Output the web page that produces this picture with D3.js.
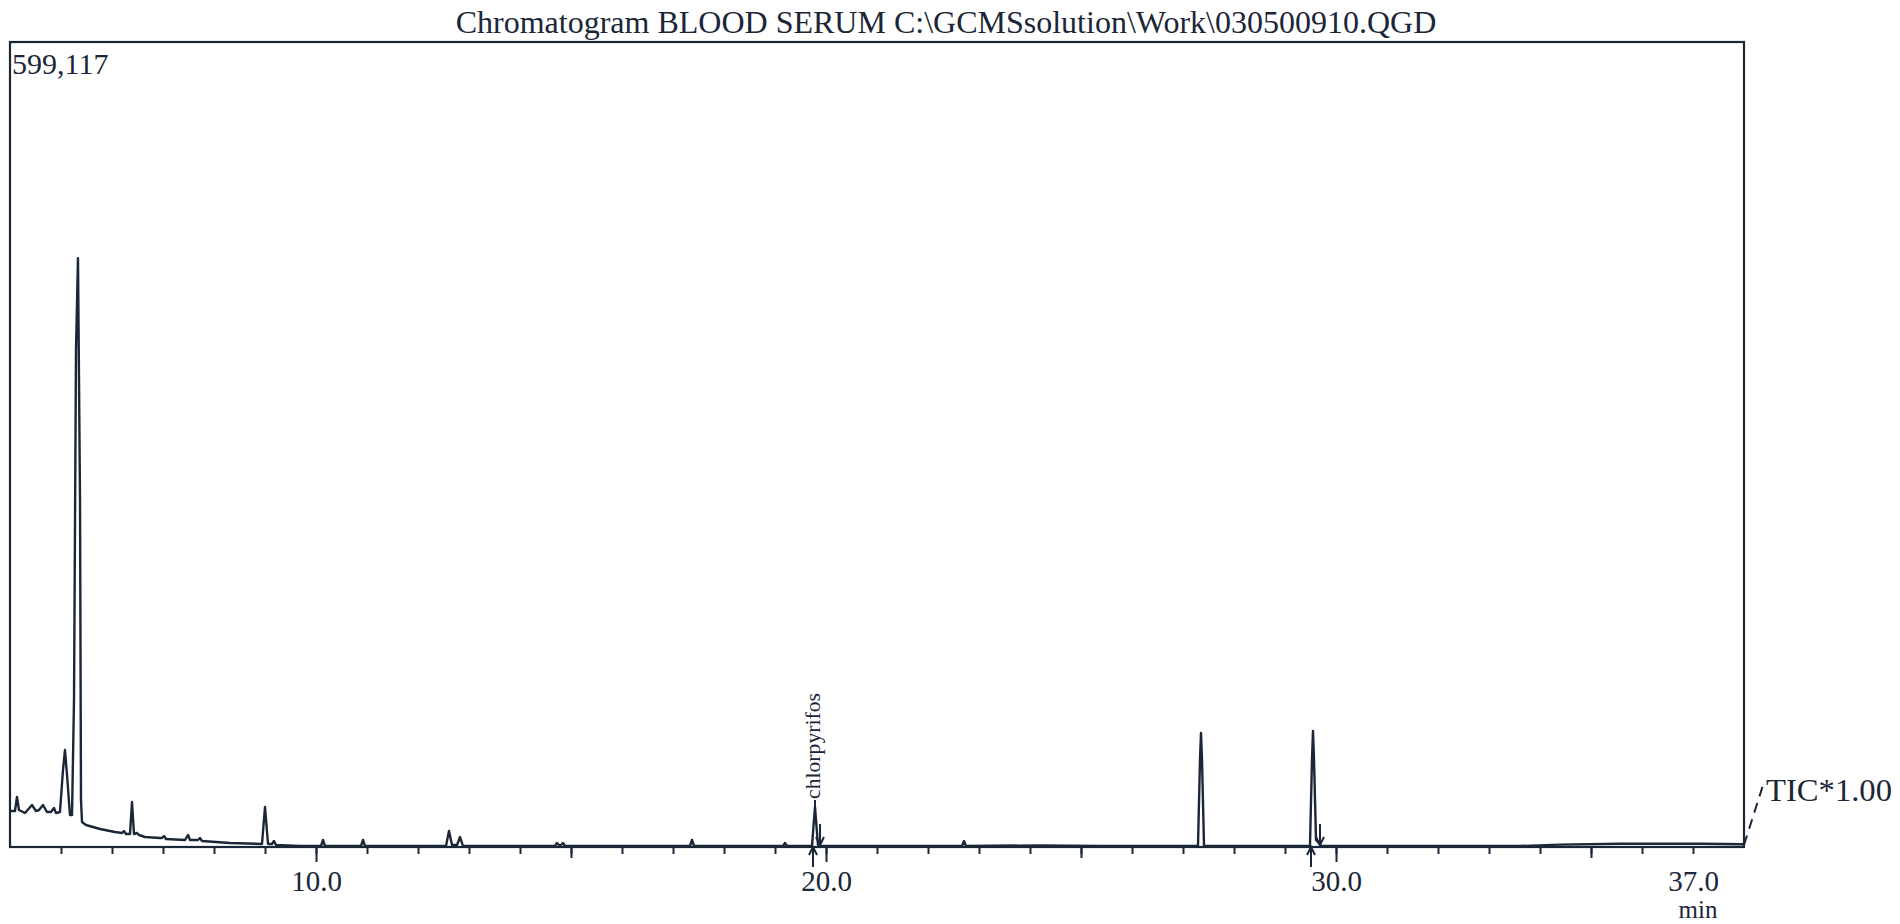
<!DOCTYPE html>
<html><head><meta charset="utf-8">
<script src="https://cdn.jsdelivr.net/npm/d3@7"></script>
<style>
html,body{margin:0;padding:0;background:#ffffff;}
svg{display:block;font-family:"Liberation Serif","Times New Roman",serif;}
</style>
</head><body>
<svg id="chart" width="1900" height="924"></svg>
<script>
// ---------- data ----------
const titleText = "Chromatogram BLOOD SERUM C:\\GCMSsolution\\Work\\030500910.QGD";
const maxIntensityLabel = "599,117";
const yMax = 599117;
const xDomain = [4.0, 38.0];
const majorTicks = [10, 20, 30];
const midTicks = [15, 25, 35];
const labelTicks = [10, 20, 30, 37];
const labelTexts = ["10.0", "20.0", "30.0", "37.0"];
const traceLabel = "TIC*1.00";
const unitLabel = "min";

// retention time (min) and TIC intensity
const rtMin = [
  4.000, 4.098, 4.137, 4.176, 4.294, 4.431, 4.510, 4.569, 4.647, 4.725,
  4.804, 4.863, 4.902, 4.980, 5.039, 5.078, 5.118, 5.176, 5.216, 5.255,
  5.294, 5.333, 5.373, 5.392, 5.412, 5.490, 5.765, 6.059, 6.196, 6.235,
  6.275, 6.353, 6.392, 6.431, 6.490, 6.529, 6.647, 6.941, 6.980, 7.020,
  7.059, 7.431, 7.490, 7.529, 7.686, 7.725, 7.765, 8.314, 8.941, 9.000,
  9.059, 9.137, 9.176, 9.216, 9.686, 10.098, 10.137, 10.176, 10.882, 10.922,
  10.961, 12.549, 12.608, 12.667, 12.765, 12.824, 12.882, 14.686, 14.725, 14.784,
  14.843, 14.882, 17.333, 17.373, 17.412, 19.157, 19.196, 19.235, 19.725, 19.784,
  19.843, 19.882, 22.667, 22.706, 22.745, 24.196, 25.373, 27.294, 27.333, 27.353,
  27.373, 27.412, 29.490, 29.529, 29.549, 29.569, 29.608, 29.647, 29.706, 33.608,
  34.392, 35.569, 37.137, 38.000
];
const ticIntensity = [
  26784, 26784, 37200, 27528, 25296, 31248, 26784, 27528, 31248, 26040,
  26040, 29016, 25296, 26040, 57288, 72168, 53568, 23808, 23808, 109368,
  369768, 438216, 258168, 34968, 18600, 16368, 13392, 11160, 10416, 11904,
  9672, 9672, 33480, 9672, 10416, 8928, 7440, 6696, 6696, 8184,
  5952, 5208, 8928, 5208, 5208, 6696, 4464, 2976, 2232, 29760,
  2232, 2232, 4464, 1488, 744, 744, 5208, 744, 744, 5208,
  744, 744, 11904, 1488, 1488, 7440, 744, 744, 2976, 744,
  2976, 744, 744, 5208, 744, 744, 2976, 744, 744, 29760,
  1488, 744, 744, 4464, 744, 1200, 744, 744, 64728, 84816,
  64728, 744, 744, 64728, 86304, 64728, 5208, 3720, 744, 744,
  1800, 2400, 2400, 2000
];

const compoundNames = ["chlorpyrifos"];
const compoundRT = [19.784];
const compoundApex = [29760];
const integStart = [19.745, 29.510];
const integEnd = [19.882, 29.686];

// ---------- layout ----------
const ink = "#1b2637";
const plot = {left: 10, right: 1744, top: 42, bottom: 847};

const svg = d3.select("#chart");
const x = d3.scaleLinear().domain(xDomain).range([plot.left, plot.right]);
const y = d3.scaleLinear().domain([0, yMax]).range([plot.bottom, plot.top]);

// title
svg.append("text")
  .attr("x", 946).attr("y", 33)
  .attr("text-anchor", "middle")
  .attr("font-size", 32).attr("fill", ink)
  .text(titleText);

// frame
svg.append("rect")
  .attr("x", plot.left).attr("y", plot.top)
  .attr("width", plot.right - plot.left).attr("height", plot.bottom - plot.top)
  .attr("fill", "none").attr("stroke", ink).attr("stroke-width", 2.2);

// max intensity label
svg.append("text")
  .attr("x", 12).attr("y", 74)
  .attr("font-size", 30).attr("fill", ink)
  .text(maxIntensityLabel);

// axes (ticks)
function tickAxis(values, size, cls) {
  const g = svg.append("g").attr("class", cls)
    .attr("transform", `translate(0,${plot.bottom})`)
    .call(d3.axisBottom(x).tickValues(values).tickSize(size).tickFormat(""));
  g.select(".domain").remove();
  g.selectAll("line").attr("stroke", ink).attr("stroke-width", 2);
  return g;
}
tickAxis(d3.range(5, 38), 7, "minor");
tickAxis(midTicks, 11, "mid");
tickAxis(majorTicks, 15, "major");

const lab = svg.append("g")
  .attr("transform", `translate(0,${plot.bottom})`)
  .call(d3.axisBottom(x).tickValues(labelTicks).tickSize(0).tickPadding(23)
        .tickFormat((d, i) => labelTexts[i]));
lab.select(".domain").remove();
lab.selectAll("text").attr("font-size", 29).attr("fill", ink)
   .attr("font-family", "Liberation Serif, Times New Roman, serif");

svg.append("text")
  .attr("x", 1698).attr("y", 918)
  .attr("text-anchor", "middle")
  .attr("font-size", 25).attr("fill", ink)
  .text(unitLabel);

// trace
const pts = rtMin.map((t, i) => [t, ticIntensity[i]]);
svg.append("path")
  .datum(pts)
  .attr("fill", "none").attr("stroke", ink).attr("stroke-width", 2.4)
  .attr("stroke-linejoin", "round")
  .attr("d", d3.line().x(d => x(d[0])).y(d => y(d[1])));

// compound label
compoundNames.forEach((name, i) => {
  const cx = x(compoundRT[i]);
  const ay = y(compoundApex[i]);
  svg.append("line")
    .attr("x1", cx).attr("x2", cx).attr("y1", 800).attr("y2", ay)
    .attr("stroke", ink).attr("stroke-width", 2);
  svg.append("text")
    .attr("transform", `translate(${cx + 5},799) rotate(-90)`)
    .attr("font-size", 22).attr("fill", ink)
    .attr("textLength", 106).attr("lengthAdjust", "spacingAndGlyphs")
    .text(name);
});

// integration markers
integStart.forEach(t => {
  const ax = x(t);
  const g = svg.append("g").attr("stroke", ink).attr("stroke-width", 2).attr("fill", "none");
  g.append("line").attr("x1", ax).attr("x2", ax).attr("y1", 867).attr("y2", plot.bottom);
  g.append("path").attr("d", `M${ax - 4},${plot.bottom + 8}L${ax},${plot.bottom}L${ax + 4},${plot.bottom + 8}`);
});
integEnd.forEach(t => {
  const ax = x(t);
  const g = svg.append("g").attr("stroke", ink).attr("stroke-width", 2).attr("fill", "none");
  g.append("line").attr("x1", ax).attr("x2", ax).attr("y1", 824).attr("y2", plot.bottom - 2);
  g.append("path").attr("d", `M${ax - 4},${plot.bottom - 10}L${ax},${plot.bottom - 2}L${ax + 4},${plot.bottom - 10}`);
});

// TIC trace label with dashed leader
svg.append("line")
  .attr("x1", plot.right).attr("y1", plot.bottom - 2)
  .attr("x2", 1764).attr("y2", 782)
  .attr("stroke", ink).attr("stroke-width", 2).attr("stroke-dasharray", "10,7");
svg.append("text")
  .attr("x", 1766).attr("y", 801)
  .attr("font-size", 32).attr("fill", ink)
  .attr("textLength", 126).attr("lengthAdjust", "spacingAndGlyphs")
  .text(traceLabel);
</script>
</body></html>
